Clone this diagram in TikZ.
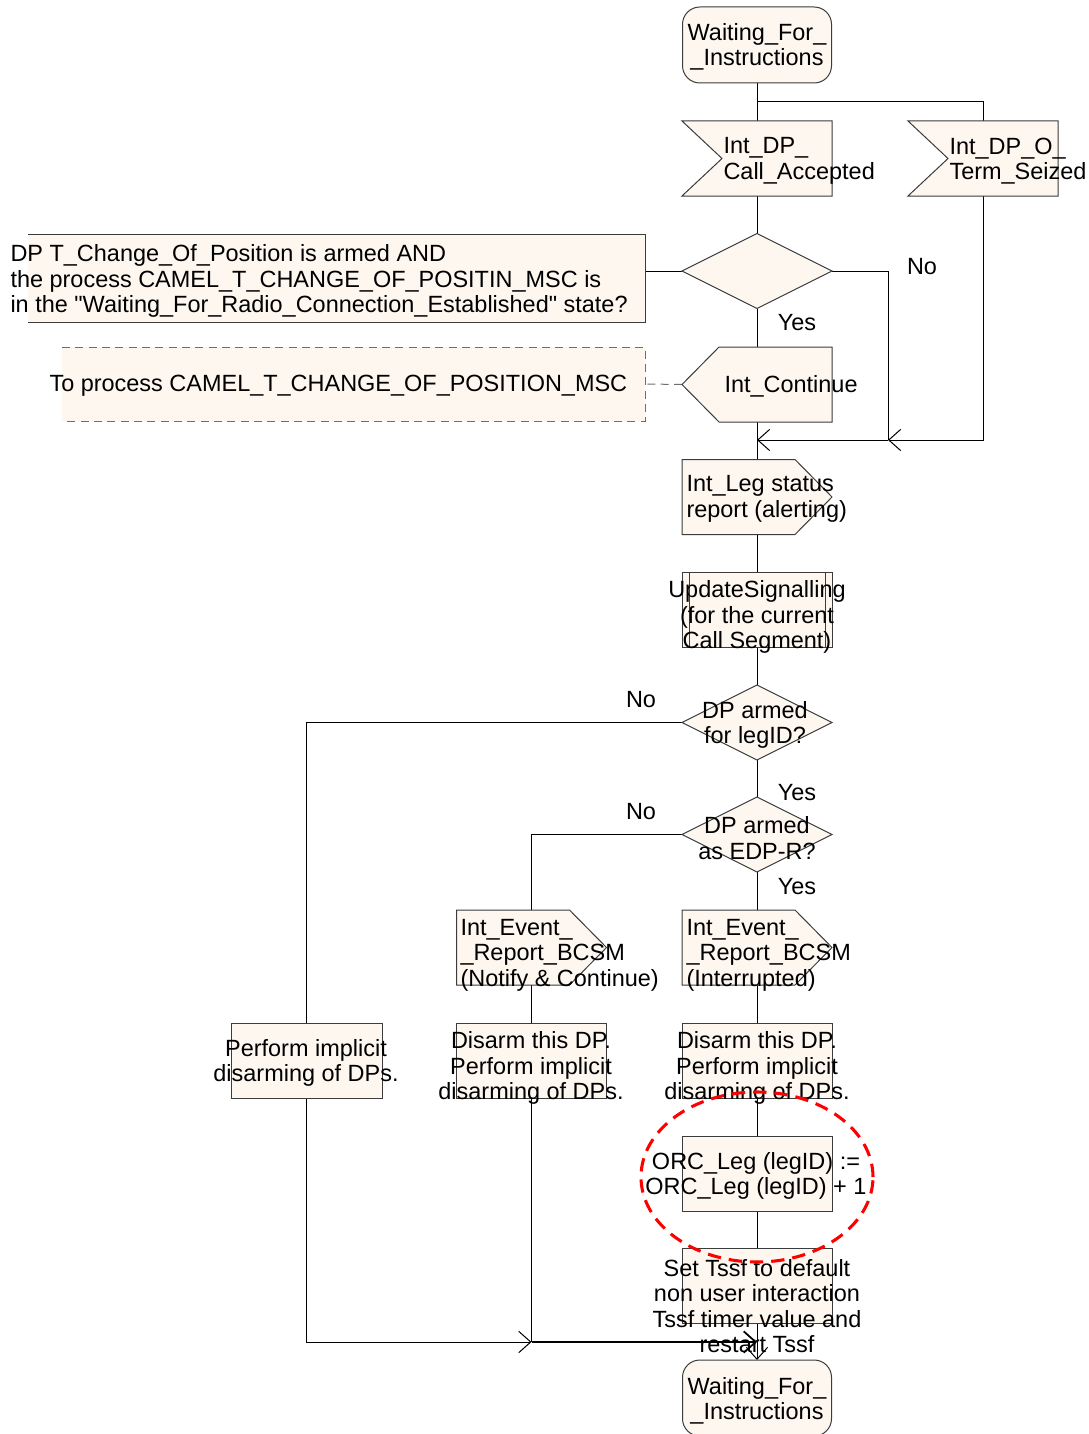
\documentclass[tikz,border=0pt]{standalone}
\usepackage{fontspec}
\setmainfont{Liberation Sans}
\usetikzlibrary{arrows.meta,calc}
\definecolor{sdlfill}{RGB}{253,247,240}
\definecolor{framegray}{RGB}{60,60,60}
\definecolor{dashgray}{RGB}{110,110,110}
\begin{document}
\begin{tikzpicture}[x=0.75pt,y=-0.75pt,line width=0.75pt,
  slot/.style={minimum width=112.5pt,minimum height=56.25pt,inner sep=0pt,outer sep=0pt},
  txt/.style={inner sep=0pt,font=\fontsize{17.6}{19.2}\selectfont,align=center},
  lbl/.style={inner sep=0pt,font=\fontsize{17.6}{19.2}\selectfont},
  sdl/.style={draw=framegray,fill=sdlfill,line width=0.75pt},
  flow/.style={draw=black,line width=0.75pt},
  arr/.style={flow,-{Straight Barb[length=9pt,width=16pt]}},
  dashline/.style={draw=dashgray,line width=0.75pt,dash pattern=on 6pt off 4pt},
]
\useasboundingbox (0,0) rectangle (1088,1434);

% ---- frames (used for anchors) ----
\node[slot,minimum width=111.75pt,minimum height=57pt] (s1) at (757,45) {};
\node[slot] (ia) at (757,158.5) {};
\node[slot] (ib) at (983,158.5) {};
\node[slot] (d1) at (757,271) {};
\node[slot,minimum width=462.75pt,minimum height=66pt] (c1) at (336.5,278) {};
\node[slot] (ic) at (757,384.5) {};
\node[slot,minimum width=437.25pt,minimum height=55.5pt] (c2) at (353.5,384) {};
\node[slot] (ol) at (757,497) {};
\node[slot] (up) at (757,609.5) {};
\node[slot] (d2) at (757,722.5) {};
\node[slot] (d3) at (757,834.5) {};
\node[slot] (e1) at (757,947.5) {};
\node[slot] (e2) at (531.5,947.5) {};
\node[slot,minimum width=113.25pt] (p1) at (306.5,1060.5) {};
\node[slot] (p2) at (531.5,1060.5) {};
\node[slot] (p3) at (757,1060.5) {};
\node[slot] (orc) at (757,1174) {};
\node[slot] (ts) at (757,1286) {};
\node[slot,minimum width=111.75pt,minimum height=57pt] (s2) at (757,1398) {};

% ---- connectors ----
\coordinate (br) at (757,102);
\coordinate (j1) at (757,440);
\coordinate (j2) at (888,440);
\coordinate (j3) at (531.5,1342);
\coordinate (j4) at (757,1342);
\draw[flow] (s1.south) -- (ia.north);
\draw[flow] (br) -| (ib.north);
\draw[flow] (ia.south) -- (d1.north);
\draw[flow] (d1.west) -- (d1.west -| c1.east);
\draw[flow] (d1.south) -- (ic.north);
\draw[dashline] (ic.west) -- (c2.east);
\draw[flow] (ic.south) -- (j1);
\draw[flow] (d1.east) -| (j2);
\draw[arr] (ib.south) |- (j2);
\draw[arr] (j2) -- (j1);
\draw[flow] (j1) -- (ol.north);
\draw[flow] (ol.south) -- (up.north);
\draw[flow] (up.south) -- (d2.north);
\draw[flow] (d2.west) -| (p1.north);
\draw[flow] (d2.south) -- (d3.north);
\draw[flow] (d3.west) -| (e2.north);
\draw[flow] (d3.south) -- (e1.north);
\draw[flow] (e1.south) -- (p3.north);
\draw[flow] (e2.south) -- (p2.north);
\draw[flow] (p3.south) -- (orc.north);
\draw[flow] (orc.south) -- (ts.north);
\draw[arr] (ts.south) -- (s2.north);
\draw[arr] (p1.south) |- (j3);
\draw[flow] (p2.south) -- (j3);
\draw[arr,line width=1.3pt] (j3) -- (j4);

% ---- symbols ----
\draw[sdl,rounded corners=13pt] (s1.north west) rectangle (s1.south east);
\draw[sdl] (ia.north west) -- (ia.north east) -- (ia.south east) -- (ia.south west) -- ($(ia.west)+(40,0)$) -- cycle;
\draw[sdl] (ib.north west) -- (ib.north east) -- (ib.south east) -- (ib.south west) -- ($(ib.west)+(40,0)$) -- cycle;
\draw[sdl] (d1.north) -- (d1.east) -- (d1.south) -- (d1.west) -- cycle;
\fill[sdlfill] (c1.north west) rectangle (c1.south east);
\draw[framegray] (c1.north west) -- (c1.north east) -- (c1.south east) -- (c1.south west);
\draw[sdl] (ic.west) -- ($(ic.north west)+(37,0)$) -- (ic.north east) -- (ic.south east) -- ($(ic.south west)+(37,0)$) -- cycle;
\fill[sdlfill] (c2.north west) rectangle (c2.south east);
\draw[dashline] (c2.north west) -- (c2.north east) -- (c2.south east) -- (c2.south west);
\draw[sdl] (ol.north west) -- ($(ol.north east)+(-37,0)$) -- (ol.east) -- ($(ol.south east)+(-37,0)$) -- (ol.south west) -- cycle;
\draw[sdl] (up.north west) rectangle (up.south east);
\draw[framegray] ($(up.north west)+(7,0)$) -- ($(up.south west)+(7,0)$);
\draw[framegray] ($(up.north east)+(-7,0)$) -- ($(up.south east)+(-7,0)$);
\draw[sdl] (d2.north) -- (d2.east) -- (d2.south) -- (d2.west) -- cycle;
\draw[sdl] (d3.north) -- (d3.east) -- (d3.south) -- (d3.west) -- cycle;
\draw[sdl] (e1.north west) -- ($(e1.north east)+(-37,0)$) -- (e1.east) -- ($(e1.south east)+(-37,0)$) -- (e1.south west) -- cycle;
\draw[sdl] (e2.north west) -- ($(e2.north east)+(-37,0)$) -- (e2.east) -- ($(e2.south east)+(-37,0)$) -- (e2.south west) -- cycle;
\draw[sdl] (p1.north west) rectangle (p1.south east);
\draw[sdl] (p2.north west) rectangle (p2.south east);
\draw[sdl] (p3.north west) rectangle (p3.south east);
\draw[sdl] (orc.north west) rectangle (orc.south east);
\draw[sdl] (ts.north west) rectangle (ts.south east);
\draw[sdl,rounded corners=13pt] (s2.north west) rectangle (s2.south east);

% ---- texts ----
\node[txt] (t_s1) at (757,47) {Waiting\_For\_\\\_Instructions};
\node[txt,align=left,anchor=west] (t_ia) at (723,161) {Int\_DP\_\\Call\_Accepted};
\node[txt,align=left,anchor=west] (t_ib) at (949,161) {Int\_DP\_O\_\\Term\_Seized};
\node[txt,align=left,anchor=west] (t_c1) at (10,281) {DP T\_Change\_Of\_Position is armed AND\\the process CAMEL\_T\_CHANGE\_OF\_POSITIN\_MSC is\\in the \textquotedbl Waiting\_For\_Radio\_Connection\_Established\textquotedbl{} state?};
\node[txt,anchor=west] (t_ic) at (724,386) {Int\_Continue};
\node[txt,anchor=west] (t_c2) at (49,386) {To process CAMEL\_T\_CHANGE\_OF\_POSITION\_MSC};
\node[txt,align=left,anchor=west] (t_ol) at (686,499) {Int\_Leg status\\report (alerting)};
\node[txt] (t_up) at (757,617) {UpdateSignalling\\(for the current\\Call Segment)};
\node[txt] (t_d2) at (755,725) {DP armed\\for legID?};
\node[txt] (t_d3) at (757,838) {DP armed\\as EDP-R?};
\node[txt,align=left,anchor=west] (t_e1) at (686,955) {Int\_Event\_\\\_Report\_BCSM\\(Interrupted)};
\node[txt,align=left,anchor=west] (t_e2) at (460,955) {Int\_Event\_\\\_Report\_BCSM\\(Notify \& Continue)};
\node[txt] (t_p1) at (306,1063) {Perform implicit\\disarming of DPs.};
\node[txt] (t_p2) at (531,1068) {Disarm this DP.\\Perform implicit\\disarming of DPs.};
\node[txt] (t_p3) at (757,1068) {Disarm this DP.\\Perform implicit\\disarming of DPs.};
\node[txt] (t_orc) at (756,1176) {ORC\_Leg (legID) :=\\ORC\_Leg (legID) + 1};
\node[txt] (t_ts) at (757,1306) {Set Tssf to default\\non user interaction\\Tssf timer value and\\restart Tssf};
\node[txt] (t_s2) at (757,1401) {Waiting\_For\_\\\_Instructions};

% ---- branch labels ----
\node[lbl] (l_yes1) at (797,323) {Yes};
\node[lbl] (l_no1) at (922,267) {No};
\node[lbl] (l_no2) at (641,700) {No};
\node[lbl] (l_yes2) at (797,793) {Yes};
\node[lbl] (l_no3) at (641,812) {No};
\node[lbl] (l_yes3) at (797,887) {Yes};

% ---- highlight ----
\draw[red,line width=2.3pt,dash pattern=on 10pt off 6pt] (757,1177) ellipse [x radius=87pt,y radius=63.75pt];
\end{tikzpicture}
\end{document}
